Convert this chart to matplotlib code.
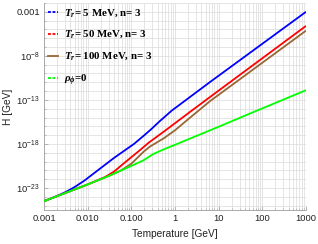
import numpy as np
import matplotlib
matplotlib.use("Agg")
import matplotlib.pyplot as plt
from matplotlib.lines import Line2D
from matplotlib.ticker import FixedLocator, LogLocator, NullFormatter

plt.rcParams['font.family'] = ['Liberation Sans', 'DejaVu Sans']
plt.rcParams['mathtext.fontset'] = 'custom'
plt.rcParams['mathtext.rm'] = 'Liberation Sans'
plt.rcParams['mathtext.bfit'] = 'Liberation Serif:italic:bold'
plt.rcParams['mathtext.bf'] = 'Liberation Serif:bold'

# ---- data (log10 values) ----
green_logT = [-3, -2, -1.5, -1, -0.7, -0.5, -0.25, 0, 1, 1.87, 3]
green_logH = [-24.5, -22.6, -21.6, -20.5, -19.8, -19.15, -18.6, -18.1, -16.05, -14.23, -11.9]

blue_logT = [-3, -2.7, -2.5, -2.3, -2.085, -1.4, -0.94, -0.712, -0.55, -0.368, -0.078, 0.8, 3]
blue_logH = [-24.5, -23.9, -23.45, -22.9, -22.2, -19.6, -18.0, -17.05, -16.35, -15.5, -14.23, -10.98, -3.0]

red_logT = [-3, -2, -1.6, -1.4, -1.17, -0.826, -0.6, -0.25, 0.38, 0.8, 3]
red_logH = [-24.5, -22.6, -21.75, -21.15, -20.2, -18.8, -17.85, -16.58, -14.23, -12.68, -4.6]

brown_logT = [-3, -2, -1.5, -1.25, -1.0, -0.826, -0.712, -0.574, -0.254, 0.0, 0.3, 0.8, 3]
brown_logH = [-24.5, -22.6, -21.6, -21.05, -20.25, -19.4, -18.85, -18.3, -17.35, -16.45, -15.2, -13.15, -5.14]

labels = [r'$\mathbfit{T}_{\mathbfit{r}}$= 5 MeV, n= 3',
          r'$\mathbfit{T}_{\mathbfit{r}}$= 50 MeV, n= 3',
          r'$\mathbfit{T}_{\mathbfit{r}}$= 100 MeV, n= 3',
          r'$\mathbfit{\rho}_{\mathbfit{\phi}}$=0']
colors = ['#0000ff', '#ff0000', '#996633', '#00ff00']
handle_styles = [(0, (1.6, 0.9)), (0, (1.6, 0.9)), '-', (0, (1.6, 0.9))]

xticks = [0.001, 0.01, 0.1, 1, 10, 100, 1000]
xticklabels = ['0.001', '0.010', '0.100', '1', '10', '100', '1000']
yticks = [1e-23, 1e-18, 1e-13, 1e-8, 1e-3]
yticklabels = [r'$\mathregular{10^{-23}}$', r'$\mathregular{10^{-18}}$',
               r'$\mathregular{10^{-13}}$', r'$\mathregular{10^{-8}}$', '0.001']

fig = plt.figure(figsize=(3.18, 2.44), dpi=100)
W, H = 318, 244
ax = fig.add_axes([44 / W, 1 - 210 / H, (306 - 44) / W, (210 - 3) / H])

series = [(blue_logT, blue_logH), (red_logT, red_logH),
          (brown_logT, brown_logH), (green_logT, green_logH)]
for (lt, lh), c in zip(series, colors):
    ax.plot(10 ** np.array(lt), 10 ** np.array(lh), color=c, lw=1.3,
            solid_capstyle='butt', solid_joinstyle='round', zorder=3)

ax.set_xscale('log')
ax.set_yscale('log')
ax.set_xlim(1e-3, 1e3)
ax.set_ylim(10 ** -25.5, 10 ** -2.0)

ax.xaxis.set_major_locator(FixedLocator(xticks))
ax.set_xticklabels(xticklabels)
ax.xaxis.set_minor_locator(LogLocator(base=10, subs=np.arange(2, 10), numticks=20))
ax.xaxis.set_minor_formatter(NullFormatter())
ax.yaxis.set_major_locator(FixedLocator(yticks))
ax.set_yticklabels(yticklabels)
ax.yaxis.set_minor_locator(FixedLocator([10.0 ** k for k in range(-25, -1)]))
ax.yaxis.set_minor_formatter(NullFormatter())

ax.grid(True, which='both', color='#e0e0e0', lw=0.6, zorder=0)
ax.set_axisbelow(True)

for s in ['top', 'right']:
    ax.spines[s].set_visible(False)
for s in ['left', 'bottom']:
    ax.spines[s].set_color('#aaaaaa')
    ax.spines[s].set_linewidth(0.7)

ax.tick_params(which='major', direction='in', length=3, width=0.6,
               color='#aaaaaa', labelsize=6.8, labelcolor='#222222', pad=3)
ax.tick_params(which='minor', direction='in', length=1.6, width=0.5,
               color='#aaaaaa')

ax.set_xlabel('Temperature [GeV]', fontsize=7.3, color='#222222', labelpad=4)
ax.set_ylabel('H [GeV]', fontsize=7.3, color='#222222', labelpad=2)

handles = [Line2D([], [], color=c, ls=ls, lw=1.3) for c, ls in zip(colors, handle_styles)]
leg = fig.legend(handles, labels, loc='upper left',
                 bbox_to_anchor=(48 / W, 1 - 7 / H),
                 frameon=False, borderpad=0, borderaxespad=0,
                 handlelength=0.9, handletextpad=0.6, labelspacing=0.85,
                 prop={'family': 'Liberation Serif', 'weight': 'bold', 'size': 7.8})

fig.savefig('out.png', dpi=100)
